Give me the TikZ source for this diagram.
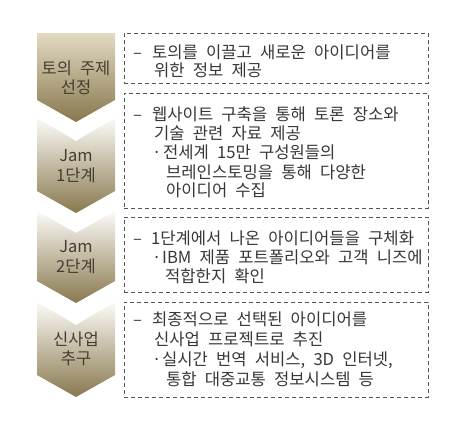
\documentclass[tikz,border=0pt]{standalone}
\usepackage{fontspec}
\setmainfont{Noto Sans CJK KR}[WordSpace=2.2]
\definecolor{chevtop}{RGB}{252,251,247}
\definecolor{chevtopA}{RGB}{226,218,194}
\definecolor{chevmid}{RGB}{218,209,182}
\definecolor{chevbot}{RGB}{136,120,78}
\definecolor{boxgray}{RGB}{85,85,85}
\definecolor{txtgray}{RGB}{55,55,55}
\definecolor{labcol}{RGB}{70,62,48}
\tikzset{
  chev/.style={top color=chevtop, middle color=chevmid, bottom color=chevbot, draw=none},
  chevA/.style={top color=chevtopA, middle color=chevmid, bottom color=chevbot, draw=none},
  dashbox/.style={draw=boxgray, dash pattern=on 4bp off 3bp, line width=0.8bp, anchor=north west, inner sep=0},
  txt/.style={anchor=base west, inner sep=0, text=txtgray, font=\fontsize{16.6bp}{19bp}\selectfont},
  lab/.style={align=center, text=labcol, font=\fontsize{16.5bp}{19.5bp}\selectfont, inner sep=0},
}
\begin{document}
\begin{tikzpicture}[x=1bp,y=-1bp]
\useasboundingbox (0,0) rectangle (467,423);
% chevrons
\path[chevA] (37,33) -- (115,33) -- (115,100) -- (76,122) -- (37,100) -- cycle;
\path[chev] (37,118) -- (76,141) -- (115,118) -- (115,191) -- (76,213) -- (37,191) -- cycle;
\path[chev] (37,211) -- (76,233) -- (115,211) -- (115,281) -- (76,303) -- (37,281) -- cycle;
\path[chev] (37,302) -- (76,325) -- (115,302) -- (115,375) -- (76,397) -- (37,375) -- cycle;
\node[lab] (c1) at (76,78) {토의 주제\\선정};
\node[lab] (c2) at (76,166) {Jam\\1단계};
\node[lab] (c3) at (76,257) {Jam\\2단계};
\node[lab] (c4) at (76,349) {신사업\\추구};
% boxes
\node[dashbox, minimum width=304bp, minimum height=50bp] (b1) at (124,33) {};
\node[dashbox, minimum width=304bp, minimum height=115bp] (b2) at (124,93) {};
\node[dashbox, minimum width=304bp, minimum height=75bp] (b3) at (124,217) {};
\node[dashbox, minimum width=304bp, minimum height=95bp] (b4) at (124,302) {};
% box 1
\node[txt] (d1) at (133,58) {–};
\node[txt] (t11) at (152,58) {토의를 이끌고 새로운 아이디어를};
\node[txt] (t12) at (154,76) {위한 정보 제공};
% box 2
\node[txt] (d2) at (133,120) {–};
\node[txt] (t21) at (152,120) {웹사이트 구축을 통해 토론 장소와};
\node[txt] (t22) at (154,139) {기술 관련 자료 제공};
\node[txt] (p2) at (152,158) {·};
\node[txt] (t23) at (163,158) {전세계 15만 구성원들의};
\node[txt] (t24) at (166,178) {브레인스토밍을 통해 다양한};
\node[txt] (t25) at (166,196) {아이디어 수집};
% box 3
\node[txt] (d3) at (133,244) {–};
\node[txt] (t31) at (151,244) {1단계에서 나온 아이디어들을 구체화};
\node[txt] (p3) at (152,263) {·};
\node[txt] (t32) at (162,263) {IBM 제품 포트폴리오와 고객 니즈에};
\node[txt] (t33) at (165,282) {적합한지 확인};
% box 4
\node[txt] (d4) at (133,325) {–};
\node[txt] (t41) at (152,325) {최종적으로 선택된 아이디어를};
\node[txt] (t42) at (154,345) {신사업 프로젝트로 추진};
\node[txt] (p4) at (152,365) {·};
\node[txt] (t43) at (162,365) {실시간 번역 서비스, 3D 인터넷,};
\node[txt] (t44) at (166,385) {통합 대중교통 정보시스템 등};
\end{tikzpicture}
\end{document}
